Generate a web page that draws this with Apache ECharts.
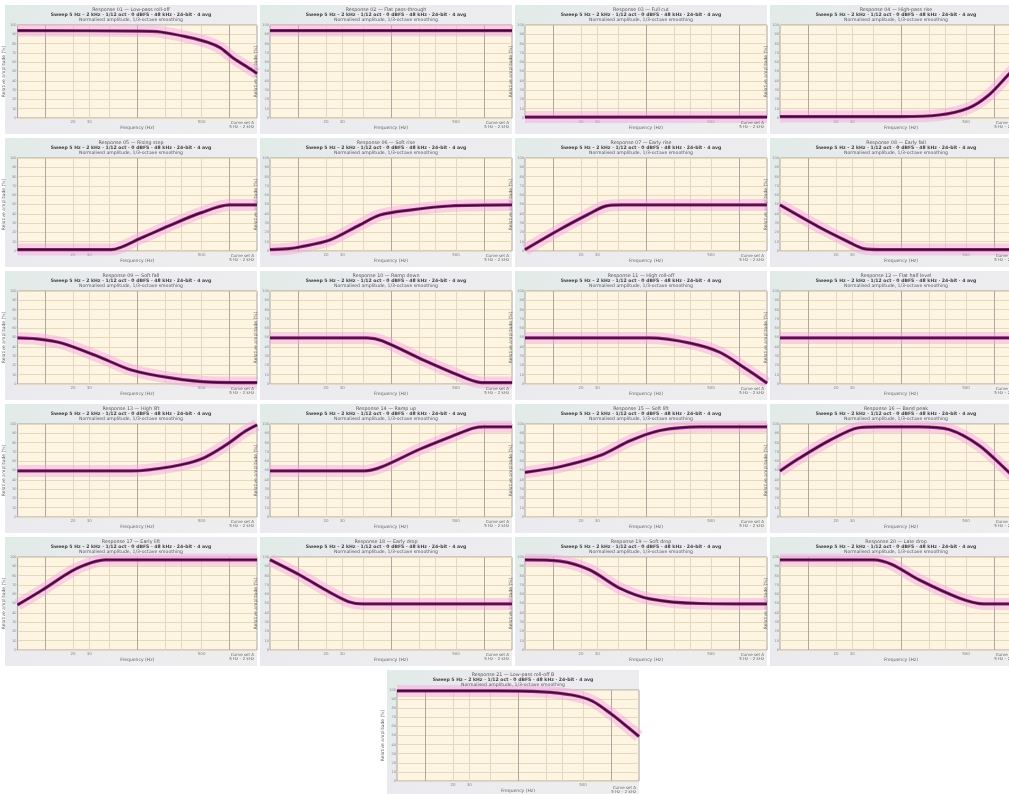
<!DOCTYPE html>
<html>
<head>
<meta charset="utf-8">
<script src="https://cdn.jsdelivr.net/npm/echarts@6/dist/echarts.min.js"></script>
<style>
  html, body { margin: 0; padding: 0; overflow: hidden; background: #ffffff; width: 1009px; height: 794px; }
  #wrap { position: relative; width: 1009px; height: 794px; overflow: hidden; }
  .panel { position: absolute; width: 252px; height: 129px;
           background: linear-gradient(135deg, #e0ebe7 0%, #ebeaef 35%, #eeeeee 100%); }
  #chart { position: absolute; left: 0; top: 0; width: 1030px; height: 794px; }
</style>
</head>
<body>
<div id="wrap"><div id="chart"></div></div>
<script>
// Frequency axis (Hz, log) and amplitude axis (% of full scale)
const freqMin = 5, freqMax = 2000;
const ampMin = 0, ampMax = 100, ampStep = 10;
const xGridMajor = [10, 100, 1000];
const xGridMinor = [20, 30, 50, 200, 300, 500];
const xTickLabels = [20, 30, 500];

// One response curve per panel: [frequency Hz, amplitude %]
const curve01 = [[5,94],[100,93.5],[180,92.5],[353,87],[580,81.5],[800,75.5],[1100,64.5],[1560,55],[2000,48]];
const curve02 = [[5,94],[2000,94]];
const curve03 = [[5,1],[2000,1]];
const curve04 = [[5,1.5],[95,1.5],[256,3.2],[535,10.8],[880,24.7],[1380,45],[2000,62]];
const curve05 = [[5,1.5],[52,1.5],[110,14],[232,28],[488,41],[1000,49.5],[2000,49.5]];
const curve06 = [[5,1.5],[8,2.5],[10.5,4.3],[22,11.8],[46,28],[76,38.7],[160,44],[430,48.4],[2000,49.5]];
const curve07 = [[5,1.5],[12,23.5],[24,39.5],[36,48],[55,49.5],[2000,49.5]];
const curve08 = [[5,49.5],[13,26],[27,10],[40,2.5],[60,1.5],[2000,1.5]];
const curve09 = [[5,49.5],[8,48.5],[15,44],[41,28],[86,15],[232,6.5],[625,2],[2000,1.5]];
const curve10 = [[5,49.5],[55,49.5],[80,46.5],[232,25],[650,6],[950,1.5],[2000,1.5]];
const curve11 = [[5,49.5],[110,49.5],[297,44],[625,34],[1160,17],[2000,1]];
const curve12 = [[5,49.5],[2000,49.5]];
const curve13 = [[5,49.5],[86,49.5],[232,54],[488,62],[906,77],[1480,92],[2000,99]];
const curve14 = [[5,49.5],[52,49.5],[80,54],[205,73],[560,90.5],[760,95.5],[1000,97],[2000,97]];
const curve15 = [[5,48],[11.9,54],[32,66],[67.5,82],[141,93],[380,97],[2000,97]];
const curve16 = [[5,49.5],[8,63],[16.8,82],[35,96],[58,97],[156,97],[328,94],[690,77],[1380,50],[2000,35]];
const curve17 = [[5,48.5],[9.3,64.5],[19.5,85],[32,94],[45,97],[2000,97]];
const curve18 = [[5,97],[10.5,80.5],[22,62],[35,52],[50,49.5],[2000,49.5]];
const curve19 = [[5,97],[11.9,95.5],[25,86],[52,66.5],[110,55],[380,50],[2000,49.5]];
const curve20 = [[5,97],[51,97],[80,92],[156,75.5],[420,56],[785,49.5],[2000,49.5]];
const curve21 = [[5,99],[57,99],[180,98],[380,94.5],[625,88],[1025,73],[1520,59],[2000,49]];

const curves = [curve01, curve02, curve03, curve04, curve05, curve06, curve07, curve08, curve09, curve10,
                curve11, curve12, curve13, curve14, curve15, curve16, curve17, curve18, curve19, curve20, curve21];

const panelNames = ['Low-pass roll-off', 'Flat pass-through', 'Full cut', 'High-pass rise', 'Rising step',
  'Soft rise', 'Early rise', 'Early fall', 'Soft fall', 'Ramp down', 'High roll-off', 'Flat half level',
  'High lift', 'Ramp up', 'Soft lift', 'Band peak', 'Early lift', 'Early drop', 'Soft drop', 'Late drop',
  'Low-pass roll-off B'];
const titleLine2 = 'Sweep 5 Hz \u2013 2 kHz \u00b7 1/12 oct \u00b7 0 dBFS \u00b7 48 kHz \u00b7 24-bit \u00b7 4 avg';
const titleLine3 = 'Normalised amplitude, 1/3-octave smoothing';
const xName = 'Frequency (Hz)';
const yName = 'Relative amplitude (%)';
const footLines = ['Curve set A', '5 Hz \u2013 2 kHz'];

// Panel placement: 4 columns x 5 rows, plus one centred panel at the bottom
function panelOrigin(i) {
  if (i < 20) return [5 + (i % 4) * 255, 5 + Math.floor(i / 4) * 133];
  return [387, 670];
}

const wrap = document.getElementById('wrap');
const chartEl = document.getElementById('chart');
curves.forEach((c, i) => {
  const [x0, y0] = panelOrigin(i);
  const d = document.createElement('div');
  d.className = 'panel';
  d.style.left = x0 + 'px';
  d.style.top = y0 + 'px';
  wrap.insertBefore(d, chartEl);
});

const chart = echarts.init(chartEl, null, { renderer: 'canvas' });
const grids = [], xAxes = [], yAxes = [], series = [], graphics = [];
const font = '"DejaVu Sans", sans-serif';

curves.forEach((data, i) => {
  const [x0, y0] = panelOrigin(i);
  grids.push({
    left: x0 + 10, top: y0 + 20, width: 242, height: 93,
    show: true, backgroundColor: '#fdf5e1', borderColor: '#a8a4a0', borderWidth: 1
  });
  xAxes.push({
    type: 'log', logBase: 10, min: freqMin, max: freqMax, gridIndex: i,
    axisLine: { show: false }, axisTick: { show: false }, splitLine: { show: false },
    axisLabel: { fontSize: 4, margin: 2, color: '#888', fontFamily: font, customValues: xTickLabels },
    name: xName, nameLocation: 'middle', nameGap: 7,
    nameTextStyle: { fontSize: 4.5, color: '#666', fontFamily: font }
  });
  yAxes.push({
    type: 'value', min: ampMin, max: ampMax, interval: ampStep, gridIndex: i,
    axisLine: { show: false }, axisTick: { show: false },
    splitLine: { lineStyle: { color: '#e6d8ba', width: 1 } },
    axisLabel: { fontSize: 3.5, margin: 1, color: '#888', fontFamily: font },
    name: yName, nameLocation: 'middle', nameGap: 4,
    nameTextStyle: { fontSize: 4.5, color: '#666', fontFamily: font }
  });

  // vertical grid on the log frequency scale
  const vLines = xGridMinor.map(v => ({ xAxis: v, lineStyle: { color: '#e4d6c4', width: 1, type: 'solid' } }))
    .concat(xGridMajor.map(v => ({ xAxis: v, lineStyle: { color: '#b0a6a2', width: 1, type: 'solid' } })));
  series.push({
    type: 'line', xAxisIndex: i, yAxisIndex: i, data: [[freqMin, ampMin]], z: 1,
    showSymbol: false, lineStyle: { width: 0, opacity: 0 }, silent: true,
    markLine: { silent: true, symbol: 'none', label: { show: false }, data: vLines, animation: false }
  });

  const common = {
    type: 'line', xAxisIndex: i, yAxisIndex: i, data: data, showSymbol: false,
    smooth: 0.3, silent: true, animation: false, clip: true
  };
  series.push(Object.assign({}, common, { z: 10, lineStyle: { width: 12, color: 'rgba(244,165,226,0.45)', cap: 'butt' } }));
  series.push(Object.assign({}, common, { z: 11, lineStyle: { width: 3.2, color: '#97287f' } }));
  series.push(Object.assign({}, common, { z: 12, lineStyle: { width: 1.6, color: '#3f0b36' } }));

  const cx = x0 + 126;
  graphics.push({ type: 'text', z: 50, style: { text: 'Response ' + String(i + 1).padStart(2, '0') + ' \u2014 ' + panelNames[i],
    x: cx, y: y0 + 2, fill: '#555', font: '4.8px ' + font, textAlign: 'center', textVerticalAlign: 'top' } });
  graphics.push({ type: 'text', z: 50, style: { text: titleLine2,
    x: cx, y: y0 + 7.5, fill: '#444', font: 'bold 4.6px ' + font, textAlign: 'center', textVerticalAlign: 'top' } });
  graphics.push({ type: 'text', z: 50, style: { text: titleLine3,
    x: cx, y: y0 + 12.5, fill: '#555', font: '4.6px ' + font, textAlign: 'center', textVerticalAlign: 'top' } });
  graphics.push({ type: 'text', z: 50, style: { text: footLines.join('\n'),
    x: x0 + 249, y: y0 + 115.5, fill: '#666', font: '4px ' + font, lineHeight: 4.5, textAlign: 'right', textVerticalAlign: 'top' } });
});

chart.setOption({
  animation: false,
  backgroundColor: 'transparent',
  grid: grids,
  xAxis: xAxes,
  yAxis: yAxes,
  series: series,
  graphic: { elements: graphics }
});
</script>
</body>
</html>
